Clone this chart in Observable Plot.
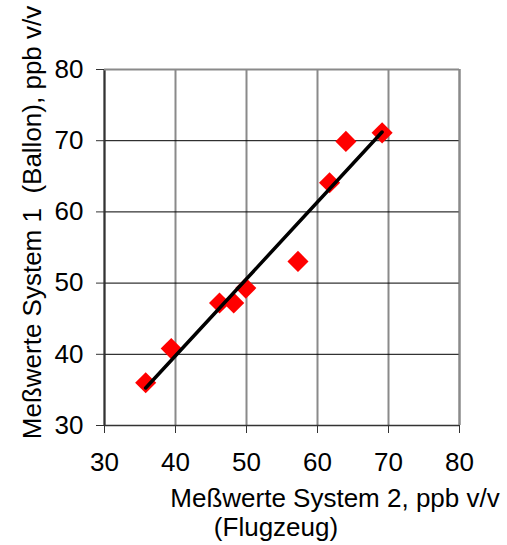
<!DOCTYPE html>
<html>
<head>
<meta charset="utf-8">
<script src="https://cdn.jsdelivr.net/npm/d3@7"></script>
<script src="https://cdn.jsdelivr.net/npm/@observablehq/plot@0.6"></script>
<style>
  html, body { margin: 0; padding: 0; background: #fff; }
</style>
</head>
<body>
<div id="chart"></div>
<script>
// Values
const system2 = [35.8, 39.4, 46.2, 48.2, 49.9, 57.25, 61.7, 64.0, 69.1]; // x (Flugzeug)
const system1 = [36.0, 40.8, 47.2, 47.2, 49.3, 53.05, 64.1, 69.9, 71.1]; // y (Ballon)
const ticks = [30, 40, 50, 60, 70, 80];
const xLabel1 = "Meßwerte System 2, ppb v/v";
const xLabel2 = "(Flugzeug)";
const yLabel = "Meßwerte System 1  (Ballon), ppb v/v";

const data = system2.map((x, i) => ({x, y: system1[i]}));
const font = "'Liberation Sans', Arial, sans-serif";

const chart = Plot.plot({
  width: 507,
  height: 545,
  marginLeft: 104,
  marginRight: 48,
  marginTop: 69,
  marginBottom: 120,
  style: {fontFamily: font, fontSize: "26px", background: "#fff", color: "#000"},
  x: {domain: [30, 80]},
  y: {domain: [30, 80]},
  marks: [
    Plot.gridX(ticks, {stroke: "#8a8a8a", strokeOpacity: 1, strokeWidth: 2}),
    Plot.gridY(ticks, {stroke: "#000", strokeOpacity: 1, strokeWidth: 1}),
    Plot.ruleX([30], {stroke: "#333", strokeWidth: 2}),
    Plot.ruleY([30], {stroke: "#333", strokeWidth: 1.5}),
    Plot.ruleX([80], {stroke: "#8a8a8a", strokeWidth: 2}),
    Plot.ruleY([80], {stroke: "#8a8a8a", strokeWidth: 2}),
    Plot.axisX({ticks, tickSize: 8, tickPadding: 19, label: null, fontSize: 26, stroke: "#333"}),
    Plot.axisY({ticks, tickSize: 8, tickPadding: 13, label: null, fontSize: 26, stroke: "#333"}),
    Plot.dot(data, {x: "x", y: "y", symbol: "diamond2", r: 9.5, fill: "#ff0000", stroke: "none"}),
    Plot.linearRegressionY(data, {x: "x", y: "y", ci: 0, stroke: "#000", strokeWidth: 3.5}),
    Plot.text([yLabel], {frameAnchor: "left", textAnchor: "middle", lineAnchor: "middle", rotate: -90, dx: -72, dy: -25, fontSize: 26, fill: "#000"}),
    Plot.text([xLabel1], {frameAnchor: "bottom", textAnchor: "middle", lineAnchor: "middle", dx: 53, dy: 73, fontSize: 26, fill: "#000"}),
    Plot.text([xLabel2], {frameAnchor: "bottom", textAnchor: "middle", lineAnchor: "middle", dx: -6, dy: 102, fontSize: 26, fill: "#000"})
  ]
});
document.getElementById("chart").appendChild(chart);
</script>
</body>
</html>
